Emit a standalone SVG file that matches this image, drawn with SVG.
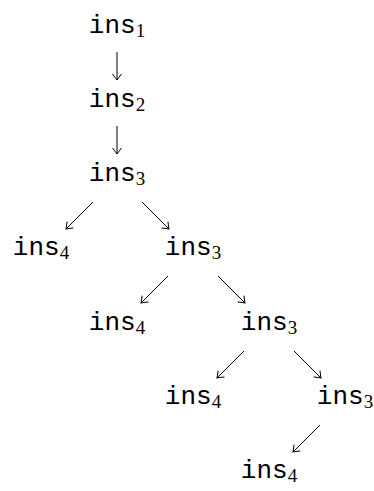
<svg xmlns="http://www.w3.org/2000/svg" width="374" height="491" viewBox="0 0 374 491">
<style>
.lbl{font-family:"Liberation Mono","DejaVu Sans Mono",monospace;font-size:26px;fill:#000;text-anchor:middle}
.sub{font-family:"Liberation Serif","DejaVu Serif",serif;font-size:19px}
.edge{stroke:#000;stroke-width:1;fill:none;marker-end:url(#ah)}
</style>
<defs>
<marker id="ah" markerUnits="userSpaceOnUse" markerWidth="12" markerHeight="12" viewBox="-7 -6 8 12" refX="0" refY="0" orient="auto">
<path d="M-6,-4.5 Q-1.5,-1 0,0 Q-1.5,1 -6,4.5" stroke="#000" stroke-width="1" fill="none"/>
</marker>
</defs>
<rect width="374" height="491" fill="#fff"/>
<g id="connectors">
<line class="edge" x1="117" y1="52" x2="117" y2="80"/>
<line class="edge" x1="117" y1="126" x2="117" y2="154"/>
<line class="edge" x1="93" y1="202" x2="66" y2="229"/>
<line class="edge" x1="142" y1="202" x2="169" y2="229"/>
<line class="edge" x1="168" y1="276" x2="141" y2="303"/>
<line class="edge" x1="218" y1="276" x2="245" y2="303"/>
<line class="edge" x1="244" y1="351" x2="217" y2="378"/>
<line class="edge" x1="294" y1="351" x2="321" y2="378"/>
<line class="edge" x1="320" y1="425" x2="293" y2="452"/>
</g>
<g id="n1"><text class="lbl" x="117" y="33">ins<tspan class="sub" dy="4">1</tspan></text></g>
<g id="n2"><text class="lbl" x="117" y="107">ins<tspan class="sub" dy="4">2</tspan></text></g>
<g id="n3"><text class="lbl" x="117" y="181">ins<tspan class="sub" dy="4">3</tspan></text></g>
<g id="n4"><text class="lbl" x="41" y="255">ins<tspan class="sub" dy="4">4</tspan></text></g>
<g id="n5"><text class="lbl" x="193" y="255">ins<tspan class="sub" dy="4">3</tspan></text></g>
<g id="n6"><text class="lbl" x="117" y="330">ins<tspan class="sub" dy="4">4</tspan></text></g>
<g id="n7"><text class="lbl" x="269" y="330">ins<tspan class="sub" dy="4">3</tspan></text></g>
<g id="n8"><text class="lbl" x="193" y="404">ins<tspan class="sub" dy="4">4</tspan></text></g>
<g id="n9"><text class="lbl" x="345" y="404">ins<tspan class="sub" dy="4">3</tspan></text></g>
<g id="n10"><text class="lbl" x="269" y="478">ins<tspan class="sub" dy="4">4</tspan></text></g>
</svg>
